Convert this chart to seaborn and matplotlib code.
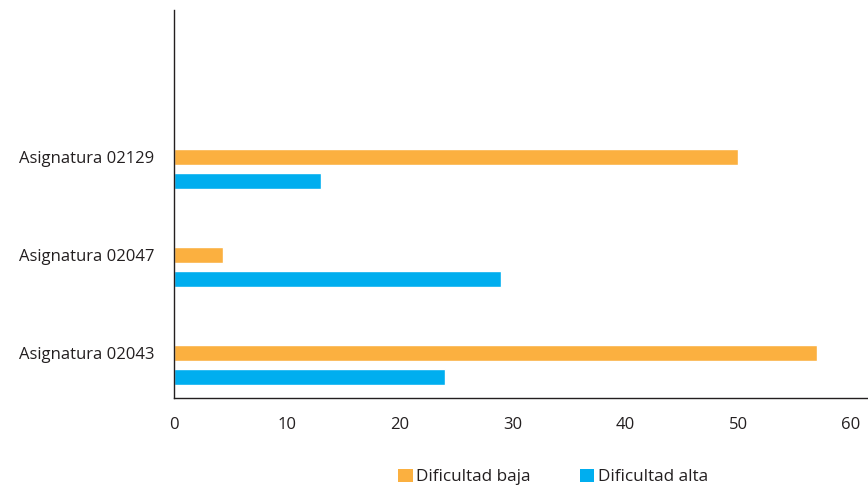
import pandas as pd
import numpy as np
import matplotlib
matplotlib.use("Agg")
import matplotlib.pyplot as plt
import seaborn as sns
from matplotlib.patches import Patch

# datos
asignaturas = ["Asignatura 02129", "Asignatura 02047", "Asignatura 02043"]
series = ["Dificultad baja", "Dificultad alta"]
valores_baja = [50, 4.3, 57]
valores_alta = [13, 29, 24]
colores = ["#FBB040", "#00AEEF"]

df = pd.DataFrame({
    "asignatura": asignaturas * 2,
    "serie": [series[0]] * 3 + [series[1]] * 3,
    "valor": valores_baja + valores_alta,
})

sns.set_style("white")
plt.rcParams["font.family"] = ["Open Sans", "DejaVu Sans"]

fig = plt.figure(figsize=(8.68, 4.88), dpi=100)
ax = fig.add_axes([174 / 868, 1 - 398 / 488, (868 - 174) / 868, (398 - 10) / 488])

sns.barplot(data=df, y="asignatura", x="valor", hue="serie", order=asignaturas,
            hue_order=series, palette=colores, orient="h", width=0.49, gap=0.335,
            saturation=1, legend=False, ax=ax)

ax.set_xlim(0, (868 - 174) / (677 / 60))
ax.set_ylim(2.337, -1.622)
ax.set_xticks([0, 10, 20, 30, 40, 50, 60])
ax.set_yticks(np.arange(len(asignaturas)) - 0.1225)
ax.set_yticklabels(asignaturas)
ax.set_xlabel("")
ax.set_ylabel("")

for lado in ["top", "right"]:
    ax.spines[lado].set_visible(False)
for lado in ["left", "bottom"]:
    ax.spines[lado].set_color("#231F20")
    ax.spines[lado].set_linewidth(1.0)

ax.tick_params(axis="both", length=0, labelsize=12, colors="#231F20")
ax.tick_params(axis="y", pad=14)
ax.tick_params(axis="x", pad=14)

handles = [Patch(facecolor=c, edgecolor="none") for c in colores]
fig.legend(handles, series, loc="center", bbox_to_anchor=(553 / 868, 1 - 477 / 488),
           ncol=2, frameon=False, fontsize=12.3, handlelength=0.85, handleheight=0.85,
           handletextpad=0.2, columnspacing=2.9, labelcolor="#231F20")

fig.savefig("out.png", dpi=100)
